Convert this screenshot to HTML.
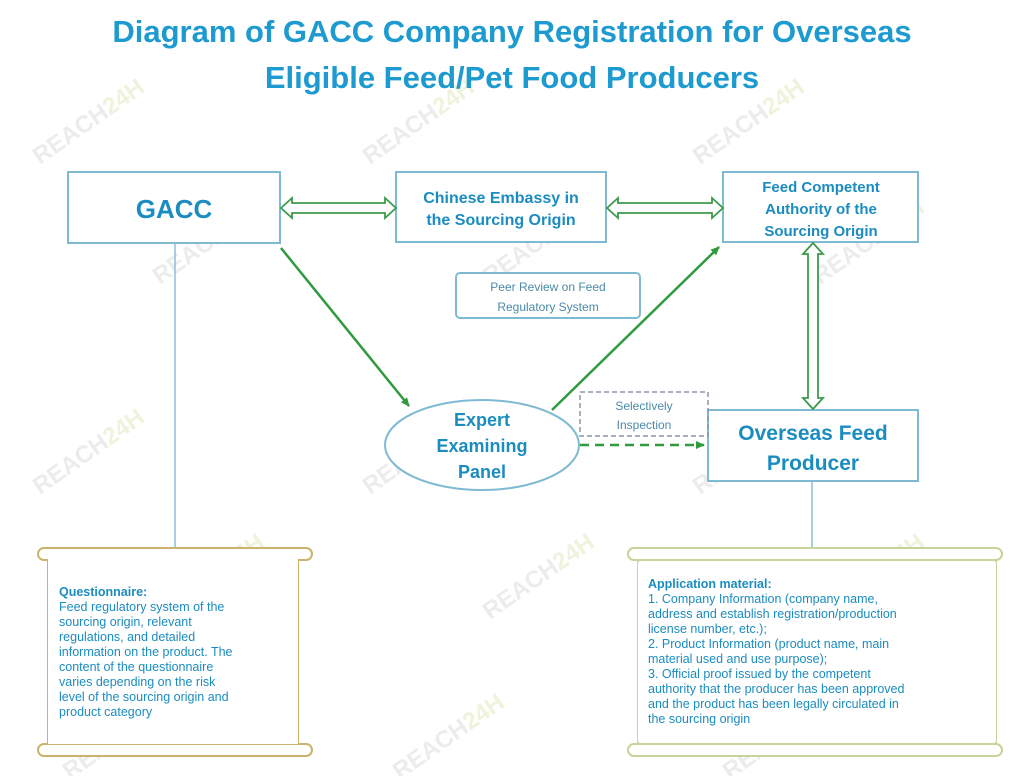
<!DOCTYPE html>
<html><head><meta charset="utf-8"><style>
html,body{margin:0;padding:0;background:#fff;width:1028px;height:776px;overflow:hidden}
svg{display:block}
</style></head><body>
<svg width="1028" height="776" viewBox="0 0 1028 776" xmlns="http://www.w3.org/2000/svg" font-family="Liberation Sans, sans-serif">
<defs>
<marker id="ah" markerWidth="10" markerHeight="10" refX="8" refY="5" orient="auto" markerUnits="userSpaceOnUse"><path d="M0,1 L9,5 L0,9 z" fill="#2f9a3e"/></marker>
</defs>
<g font-size="24" font-weight="bold">
<g fill="#ececec">
<text transform="translate(40,165) rotate(-35)">REACH<tspan fill="#eef3dc">24H</tspan></text>
<text transform="translate(370,165) rotate(-35)">REACH<tspan fill="#eef3dc">24H</tspan></text>
<text transform="translate(700,165) rotate(-35)">REACH<tspan fill="#eef3dc">24H</tspan></text>
<text transform="translate(160,285) rotate(-35)">REACH<tspan fill="#eef3dc">24H</tspan></text>
<text transform="translate(490,285) rotate(-35)">REACH<tspan fill="#eef3dc">24H</tspan></text>
<text transform="translate(820,285) rotate(-35)">REACH<tspan fill="#eef3dc">24H</tspan></text>
<text transform="translate(40,495) rotate(-35)">REACH<tspan fill="#eef3dc">24H</tspan></text>
<text transform="translate(370,495) rotate(-35)">REACH<tspan fill="#eef3dc">24H</tspan></text>
<text transform="translate(700,495) rotate(-35)">REACH<tspan fill="#eef3dc">24H</tspan></text>
<text transform="translate(160,620) rotate(-35)">REACH<tspan fill="#eef3dc">24H</tspan></text>
<text transform="translate(490,620) rotate(-35)">REACH<tspan fill="#eef3dc">24H</tspan></text>
<text transform="translate(820,620) rotate(-35)">REACH<tspan fill="#eef3dc">24H</tspan></text>
<text transform="translate(70,780) rotate(-35)">REACH<tspan fill="#eef3dc">24H</tspan></text>
<text transform="translate(400,780) rotate(-35)">REACH<tspan fill="#eef3dc">24H</tspan></text>
<text transform="translate(730,780) rotate(-35)">REACH<tspan fill="#eef3dc">24H</tspan></text>
</g></g>
<g fill="#1d9ad0" font-weight="bold" font-size="31" text-anchor="middle">
<text x="512" y="42">Diagram of GACC Company Registration for Overseas</text>
<text x="512" y="88">Eligible Feed/Pet Food Producers</text>
</g>
<g fill="#fff" stroke="#7fbad3" stroke-width="2">
<rect x="68" y="172" width="212" height="71"/>
<rect x="396" y="172" width="210" height="70"/>
<rect x="723" y="172" width="195" height="70"/>
<rect x="708" y="410" width="210" height="71"/>
<rect x="456" y="273" width="184" height="45" rx="4"/>
<ellipse cx="482" cy="445" rx="97" ry="45"/>
</g>
<rect x="580" y="392" width="128" height="44" fill="none" stroke="#8a98a8" stroke-width="1.5" stroke-dasharray="5,3"/>
<line x1="175" y1="243" x2="175" y2="548" stroke="#8fbfd6" stroke-width="1.5"/>
<line x1="812" y1="481" x2="812" y2="548" stroke="#8fbfd6" stroke-width="1.5"/>
<g fill="#fff" stroke="#3d9a4a" stroke-width="1.8">
<path d="M281,208 L292,198 L292,203 L385,203 L385,198 L396,208 L385,218 L385,213 L292,213 L292,218 Z"/>
<path d="M607,208 L618,198 L618,203 L712,203 L712,198 L723,208 L712,218 L712,213 L618,213 L618,218 Z"/>
<path d="M813,243 L823,254 L818,254 L818,398 L823,398 L813,409 L803,398 L808,398 L808,254 L803,254 Z"/>
</g>
<g stroke="#2f9a3e" stroke-width="2.5" fill="none">
<line x1="281" y1="248" x2="409" y2="406" marker-end="url(#ah)"/>
<line x1="552" y1="410" x2="719" y2="247" marker-end="url(#ah)"/>
<line x1="580" y1="445" x2="704" y2="445" stroke-dasharray="9,6" marker-end="url(#ah)"/>
</g>
<g fill="#1b8cc0" font-weight="bold" text-anchor="middle">
<text x="174" y="218" font-size="26">GACC</text>
<text x="501" y="203" font-size="16">Chinese Embassy in</text>
<text x="501" y="225" font-size="16">the Sourcing Origin</text>
<text x="821" y="192" font-size="15">Feed Competent</text>
<text x="821" y="214" font-size="15">Authority of the</text>
<text x="821" y="236" font-size="15">Sourcing Origin</text>
<text x="813" y="440" font-size="21">Overseas Feed</text>
<text x="813" y="470" font-size="21">Producer</text>
<text x="482" y="426" font-size="18">Expert</text>
<text x="482" y="452" font-size="18">Examining</text>
<text x="482" y="478" font-size="18">Panel</text>
</g>
<g fill="#4a8aa8" font-size="12" text-anchor="middle">
<text x="548" y="291">Peer Review on Feed</text>
<text x="548" y="311">Regulatory System</text>
<text x="644" y="410">Selectively</text>
<text x="644" y="429">Inspection</text>
</g>
<g fill="#fff" stroke="#c9b46a" stroke-width="2">
<rect x="48" y="556" width="250" height="198"/>
<rect x="38" y="548" width="274" height="12" rx="6"/>
<rect x="38" y="744" width="274" height="12" rx="6"/>
<rect x="48" y="556" width="250" height="188" stroke="none"/>
</g>
<g fill="#fff" stroke="#c4d49a" stroke-width="2">
<rect x="638" y="556" width="358" height="198"/>
<rect x="628" y="548" width="374" height="12" rx="6"/>
<rect x="628" y="744" width="374" height="12" rx="6"/>
<rect x="638" y="562" width="358" height="180" stroke="none"/>
</g>
<g fill="#1b8cc0" font-size="12.5">
<text x="59" y="596" font-weight="bold">Questionnaire:</text>
<text x="59" y="611">Feed regulatory system of the</text>
<text x="59" y="626">sourcing origin, relevant</text>
<text x="59" y="641">regulations, and detailed</text>
<text x="59" y="656">information on the product. The</text>
<text x="59" y="671">content of the questionnaire</text>
<text x="59" y="686">varies depending on the risk</text>
<text x="59" y="701">level of the sourcing origin and</text>
<text x="59" y="716">product category</text>
<text x="648" y="588" font-weight="bold">Application material:</text>
<text x="648" y="603">1. Company Information (company name,</text>
<text x="648" y="618">address and establish registration/production</text>
<text x="648" y="633">license number, etc.);</text>
<text x="648" y="648">2. Product Information (product name, main</text>
<text x="648" y="663">material used and use purpose);</text>
<text x="648" y="678">3. Official proof issued by the competent</text>
<text x="648" y="693">authority that the producer has been approved</text>
<text x="648" y="708">and the product has been legally circulated in</text>
<text x="648" y="723">the sourcing origin</text>
</g>
</svg>
</body></html>
